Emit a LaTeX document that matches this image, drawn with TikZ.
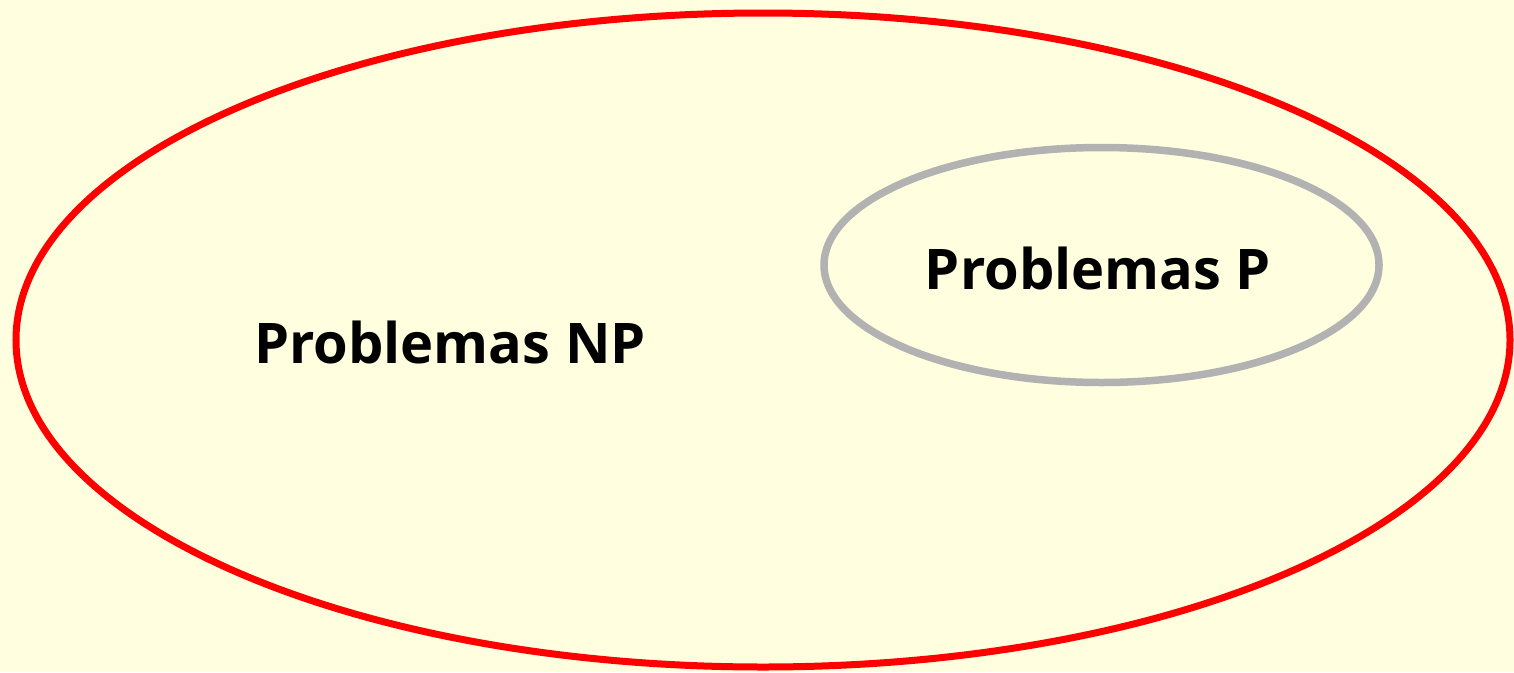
\documentclass[tikz,border=0pt]{standalone}
\usepackage{fontspec}
\setmainfont{Open Sans}
\definecolor{bgyellow}{RGB}{255,255,224}
\definecolor{npred}{RGB}{255,0,0}
\definecolor{pgray}{RGB}{178,178,178}
\begin{document}
\begin{tikzpicture}[x=1pt,y=-1pt,
  label/.style={font=\fontsize{56}{64}\selectfont\bfseries, text=black, inner sep=0pt}]
\fill[bgyellow] (0,0) rectangle (1514,672);
\useasboundingbox (0,0) rectangle (1514,672);
\draw[npred, line width=7pt] (763,340) ellipse [x radius=747, y radius=327];
\draw[pgray, line width=7.5pt] (1101.5,265) ellipse [x radius=277.5, y radius=117.5];
\node[label] (np) at (450,342) {Problemas NP};
\node[label] (p) at (1098,268) {Problemas P};
\end{tikzpicture}
\end{document}
